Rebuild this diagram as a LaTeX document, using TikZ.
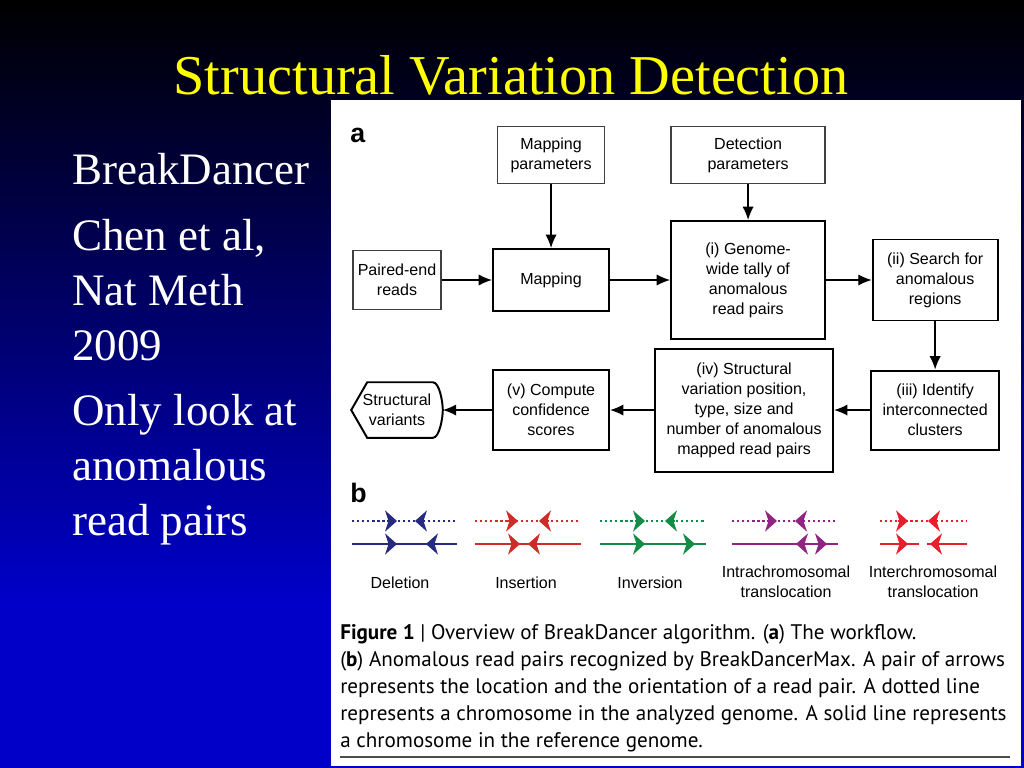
\documentclass[tikz,border=0pt]{standalone}
\usepackage{fontspec}
\setmainfont{Liberation Serif}
\newfontfamily\figsans{Liberation Sans}
\newfontfamily\capsans{PT Sans}
\usetikzlibrary{arrows.meta, positioning}

\definecolor{bgblue}{RGB}{0,0,200}
\definecolor{bgmid}{RGB}{0,0,105}
\definecolor{titleyellow}{RGB}{255,255,0}
\definecolor{delcol}{RGB}{38,43,128}
\definecolor{inscol}{RGB}{205,45,40}
\definecolor{invcol}{RGB}{20,140,70}
\definecolor{intracol}{RGB}{145,35,130}
\definecolor{intercol}{RGB}{232,30,45}

\tikzset{
  param/.style = {draw=black!75, line width=1pt, fill=white, align=center, inner sep=0pt},
  block/.style = {draw, line width=1.4pt, fill=white, align=center, inner sep=0pt},
  flow/.style = {-{Latex[length=9.5pt,width=8pt]}, line width=1pt},
  chrdot/.style = {line width=1.7pt, dash pattern=on 1.6pt off 2pt},
  chrline/.style = {line width=1.8pt},
  readtip/.style = {-{Stealth[length=8.5pt,width=15pt,inset=2.5pt]}, line width=1.8pt}
}

% read arrows: tip at (x,y), pointing right / left
\newcommand\rtip[3]{\draw[readtip, #3] (#1-10,#2) -- (#1,#2);}
\newcommand\ltip[3]{\draw[readtip, #3] (#1+10,#2) -- (#1,#2);}

\begin{document}
\begin{tikzpicture}[x=0.025cm, y=-0.025cm, >=latex,
    every node/.style={font=\figsans\fontsize{11.4}{14.2}\selectfont}]
    \useasboundingbox (0,0) rectangle (1024,768);

    % slide background
    \shade[top color=black, middle color=bgmid, bottom color=bgblue] (0,0) rectangle (1024,600);
    \fill[bgblue] (0,599) rectangle (1024,768);
    \fill[white] (331,100) rectangle (1021,766);

    % title and bullet text
    \node[anchor=base, text=titleyellow, font=\fontsize{40}{48}\selectfont] (title) at (511,95) {Structural Variation Detection};
    \node[anchor=base west, text=white, align=left, inner sep=0pt,
        font=\fontsize{32}{39.1}\selectfont] (tool) at (72,185) {BreakDancer};
    \node[anchor=base west, text=white, align=left, inner sep=0pt,
        font=\fontsize{32}{39.1}\selectfont] (cite) at (72,360) {Chen et al,\\Nat Meth\\2009};
    \node[anchor=base west, text=white, align=left, inner sep=0pt,
        font=\fontsize{32}{39.1}\selectfont] (idea) at (72,535) {Only look at\\anomalous\\read pairs};

    % panel a: workflow
    \node[anchor=base west, inner sep=0pt, font=\figsans\bfseries\fontsize{19}{22}\selectfont] (la) at (350,143) {a};
    \node[param, minimum width=2.2cm, minimum height=1.475cm] (pe) at (397,280) {Paired-end\\reads};
    \node[block, right of=pe, node distance=3.85cm, minimum width=2.9cm, minimum height=1.55cm] (map) {Mapping};
    \node[block, right of=map, node distance=4.925cm, minimum width=3.85cm, minimum height=2.95cm] (tally) {(i) Genome-\\wide tally of\\anomalous\\read pairs};
    \node[block, right of=tally, node distance=4.675cm, minimum width=3.125cm, minimum height=2.025cm] (search) {(ii) Search for\\anomalous\\regions};
    \node[block, below of=search, node distance=3.25cm, minimum width=3.2cm, minimum height=1.975cm] (clust) {(iii) Identify\\interconnected\\clusters};
    \node[block, left of=clust, node distance=4.775cm, minimum width=4.45cm, minimum height=3.075cm] (sv) {(iv) Structural\\variation position,\\type, size and\\number of anomalous\\mapped read pairs};
    \node[block, left of=sv, node distance=4.825cm, minimum width=2.9cm, minimum height=2cm] (conf) {(v) Compute\\confidence\\scores};
    \node[left of=conf, node distance=3.85cm, align=center, inner sep=0pt, minimum width=2.275cm, minimum height=1.375cm] (out) {Structural\\variants};
    \node[param, above of=map, node distance=3.125cm, minimum width=2.675cm, minimum height=1.425cm] (mpar) {Mapping\\parameters};
    \node[param, above of=tally, node distance=3.125cm, minimum width=3.85cm, minimum height=1.425cm] (dpar) {Detection\\parameters};

    \draw[line width=1.4pt] (out.west) -- ([xshift=.4cm]out.north west) -- ([xshift=-.25cm]out.north east)
        to[out=0, in=90, looseness=.6] (out.east) to[out=-90, in=0, looseness=.6] ([xshift=-.25cm]out.south east)
        -- ([xshift=.4cm]out.south west) -- cycle;

    \draw[flow] (pe) -- (map);
    \draw[flow] (mpar) -- (map);
    \draw[flow] (map) -- (tally);
    \draw[flow] (dpar) -- (tally);
    \draw[flow] (tally) -- (search);
    \draw[flow] (search) -- (clust);
    \draw[flow] (clust) -- (sv);
    \draw[flow] (sv) -- (conf);
    \draw[flow] (conf) -- (out.east);

    % panel b: read pair patterns
    \node[anchor=base west, inner sep=0pt, font=\figsans\bfseries\fontsize{19}{22}\selectfont] (lb) at (350,502) {b};
    % deletion
    \draw[chrdot, delcol] (352,521) -- (455,521);
    \draw[chrline, delcol] (352,544) -- (457,544);
    \rtip{397}{521}{delcol} \ltip{415}{521}{delcol}
    \rtip{397}{544}{delcol} \ltip{426}{544}{delcol}
    % insertion
    \draw[chrdot, inscol] (475,521) -- (578,521);
    \draw[chrline, inscol] (475,544) -- (581,544);
    \rtip{518}{521}{inscol} \ltip{539}{521}{inscol}
    \rtip{520}{544}{inscol} \ltip{528}{544}{inscol}
    % inversion
    \draw[chrdot, invcol] (600,521) -- (704,521);
    \draw[chrline, invcol] (600,544) -- (706,544);
    \rtip{645}{521}{invcol} \ltip{665}{521}{invcol}
    \rtip{645}{544}{invcol} \rtip{695}{544}{invcol}
    % intrachromosomal
    \draw[chrdot, intracol] (732,521) -- (835,521);
    \draw[chrline, intracol] (732,544) -- (838,544);
    \rtip{777}{521}{intracol} \ltip{795}{521}{intracol}
    \ltip{796}{544}{intracol} \rtip{827}{544}{intracol}
    % interchromosomal
    \draw[chrdot, intercol] (880,521) -- (967,521);
    \draw[chrline, intercol] (880,544) -- (919,544);
    \draw[chrline, intercol] (927,544) -- (967,544);
    \rtip{908}{521}{intercol} \ltip{928}{521}{intercol}
    \rtip{908}{544}{intercol} \ltip{930}{544}{intercol}

    \node (del) at (400,583) {Deletion};
    \node (ins) at (526,583) {Insertion};
    \node (inv) at (650,583) {Inversion};
    \node[align=center] (intra) at (786,582) {Intrachromosomal\\translocation};
    \node[align=center] (inter) at (933,582) {Interchromosomal\\translocation};

    % caption
    \node[anchor=north west, align=left, inner sep=0pt,
        font=\capsans\fontsize{15}{19.2}\selectfont] (cap) at (340,624)
        {\textbf{Figure 1} | Overview of BreakDancer algorithm. (\textbf{a}) The workflow.\\
         (\textbf{b}) Anomalous read pairs recognized by BreakDancerMax. A pair of arrows\\
         represents the location and the orientation of a read pair. A dotted line\\
         represents a chromosome in the analyzed genome. A solid line represents\\
         a chromosome in the reference genome.};
    \draw[black!70, line width=1pt] (340,757) -- (1010,757);
\end{tikzpicture}
\end{document}
